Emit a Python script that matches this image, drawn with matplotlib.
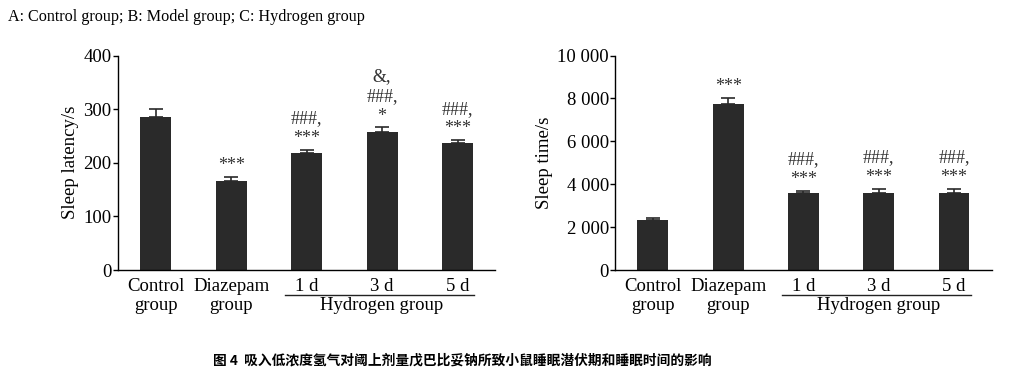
"""Sleep latency and sleep time bar charts (hydrogen inhalation study)."""
import numpy as np
import matplotlib.pyplot as plt
from matplotlib.ticker import FuncFormatter

GROUPS = ['Control\ngroup', 'Diazepam\ngroup', '1 d', '3 d', '5 d']

LATENCY = [285, 166, 218, 257, 237]
LATENCY_ERR = [16, 7, 6, 9, 5]
LATENCY_MARKS = ['', '***', '###,\n***', '&,\n###,\n*', '###,\n***']

SLEEP_TIME = [2320, 7740, 3580, 3580, 3580]
SLEEP_TIME_ERR = [120, 300, 110, 200, 200]
SLEEP_TIME_MARKS = ['', '***', '###,\n***', '###,\n***', '###,\n***']

HEADER = 'A: Control group; B: Model group; C: Hydrogen group'
CAPTION = '图 4  吸入低浓度氢气对阈上剂量戊巴比妥钠所致小鼠睡眠潜伏期和睡眠时间的影响'

BAR_COLOR = '#2a2a2a'
SERIF = 'Liberation Serif'
FS = 13.5

plt.rcParams['font.family'] = SERIF
plt.rcParams['axes.linewidth'] = 1.0


def bar_panel(ax, vals, errs, marks, ylim, yticks, ylabel, fmt=None):
    x = np.arange(len(vals))
    zeros = np.zeros(len(errs))
    ax.bar(x, vals, width=0.41, color=BAR_COLOR, zorder=2)
    ax.errorbar(x, vals, yerr=[zeros, errs], fmt='none', ecolor=BAR_COLOR,
                elinewidth=1.2, capsize=5, capthick=1.2, zorder=3)
    for xi, v, e, m in zip(x, vals, errs, marks):
        if m:
            ax.annotate(m, xy=(xi, v + e), xytext=(0, 2), textcoords='offset points',
                        ha='center', va='bottom', fontsize=13, linespacing=1.2,
                        color='#333333')
    ax.set_xlim(-0.5, len(vals) - 0.5)
    ax.set_ylim(*ylim)
    ax.set_yticks(yticks)
    if fmt is not None:
        ax.yaxis.set_major_formatter(fmt)
    ax.set_xticks(x)
    ax.set_xticklabels(GROUPS, fontsize=FS, linespacing=1.15, va='top')
    ax.tick_params(axis='x', length=0, pad=6)
    ax.tick_params(axis='y', length=3.6, width=1.0, labelsize=FS, pad=1, direction='out')
    ax.set_ylabel(ylabel, fontsize=FS, labelpad=3)
    for s in ('top', 'right'):
        ax.spines[s].set_visible(False)
    # bracket line under the hydrogen days + group label
    trans = ax.get_xaxis_transform()
    ax.plot([1.72, 4.22], [-0.118, -0.118], color='#222222', lw=1.0,
            transform=trans, clip_on=False)
    ax.text(3, -0.128, 'Hydrogen group', transform=trans, ha='center', va='top',
            fontsize=FS)


fig = plt.figure(figsize=(10.17, 3.83), dpi=100)
ax1 = fig.add_axes([0.116, 0.295, 0.371, 0.56])
ax2 = fig.add_axes([0.605, 0.295, 0.370, 0.56])

bar_panel(ax1, LATENCY, LATENCY_ERR, LATENCY_MARKS, (0, 400),
          [0, 100, 200, 300, 400], 'Sleep latency/s')
thousands = FuncFormatter(lambda v, p: f'{int(v):,}'.replace(',', ' '))
bar_panel(ax2, SLEEP_TIME, SLEEP_TIME_ERR, SLEEP_TIME_MARKS, (0, 10000),
          [0, 2000, 4000, 6000, 8000, 10000], 'Sleep time/s', fmt=thousands)

fig.text(0.008, 0.955, HEADER, fontsize=11.6, va='center', ha='left')
fig.text(0.455, 0.06, CAPTION, fontsize=9.9, va='center', ha='center',
         family=['Noto Sans CJK SC', 'DejaVu Sans'], weight='bold')

fig.savefig('out.png', dpi=100)
